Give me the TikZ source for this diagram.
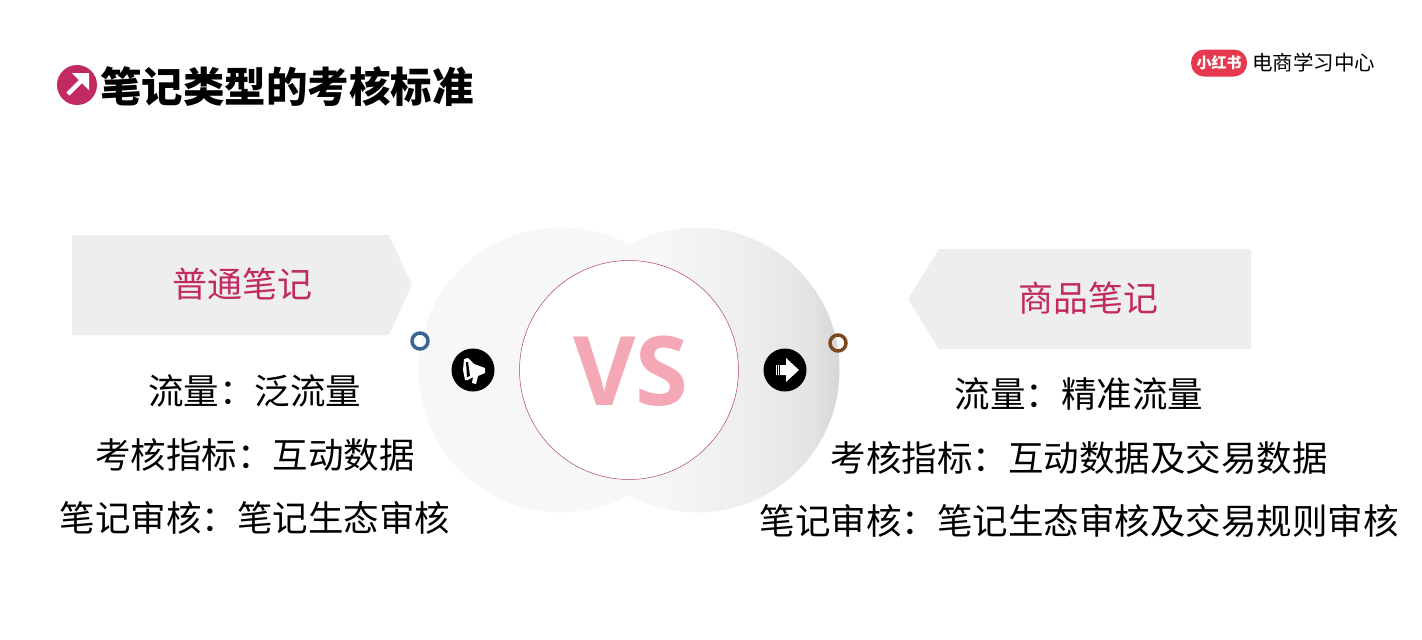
\documentclass[tikz,border=0pt]{standalone}
\usepackage{fontspec}
\usepackage{xcolor}
\setmainfont{Noto Sans CJK SC}
\newfontfamily\vsfont{Open Sans}
\usetikzlibrary{positioning, calc, shapes.geometric}
\definecolor{notepink}{HTML}{C22B62}
\definecolor{vspink}{HTML}{F4A7B5}
\definecolor{logored}{HTML}{E8384F}
\definecolor{paleround}{HTML}{F7F7F8}
\definecolor{ringblue}{HTML}{3A6595}
\definecolor{ringbrown}{HTML}{7B4A1E}
\pgfdeclarehorizontalshading{rightglow}{100bp}{color(0bp)=(paleround); color(25bp)=(paleround); color(42bp)=(paleround); color(60bp)=(black!7); color(70bp)=(black!11); color(75bp)=(black!16); color(100bp)=(black!16)}
\tikzset{heading/.style={font=\fontsize{35}{35}\selectfont,text=notepink,inner sep=0pt},
         bodyline/.style={font=\fontsize{35.5}{35.5}\selectfont,text=black,inner sep=0pt,anchor=center},
         banner/.style={draw=none,fill=gray!13},
         ring/.style={circle,draw,line width=3.5pt,minimum size=16pt,inner sep=0pt},
         badge/.style={circle,fill=black,minimum size=43pt,inner sep=0pt},
         glyph/.style={fill=white,draw=none}}
\begin{document}
\begin{tikzpicture}[x=1pt,y=-1pt]
    \useasboundingbox (0,0) rectangle (1422,640);
    % title
    \node (dot) [circle,fill=notepink,minimum size=40pt,inner sep=0pt] at (77,85) {};
    \draw[white,line width=4.5pt] (68,94) -- (84,78);
    \fill[white] (72,73) -- (89,73) -- (89,90) -- cycle;
    \node (title) [right=3pt of dot,yshift=-2pt,inner sep=0pt,font=\fontsize{41.5}{41.5}\selectfont\bfseries] {笔记类型的考核标准};
    % logo
    \node (logo) [rounded corners=13pt,fill=logored,minimum width=56pt,minimum height=27pt,inner sep=0pt,text=white,font=\fontsize{15}{15}\selectfont\bfseries] at (1219,63) {小红书};
    \node (brand) [right=5pt of logo,inner sep=0pt,font=\fontsize{20.5}{20.5}\selectfont] {电商学习中心};
    % circles
    \fill[paleround] (561,370) circle (142.5);
    \shade[shading=rightglow] (697,370) circle (142.5);
    \node (inner) [circle,draw=notepink!70!gray,fill=white,line width=0.5pt,minimum size=219pt,inner sep=0pt] at (629,370) {};
    \node (vs) [text=vspink,inner sep=0pt,font=\vsfont\fontsize{96}{96}\selectfont\bfseries] at (631,371) {VS};
    % banners
    \filldraw[banner] (72,235) -- (389,235) -- (412,285) -- (389,335) -- (72,335) -- cycle;
    \filldraw[banner] (1251,249) -- (939,249) -- (908,299) -- (939,349) -- (1251,349) -- cycle;
    \node (plain) [heading] at (242,284) {普通笔记};
    \node (goods) [heading] at (1088,298) {商品笔记};
    % rings
    \node (ringl) [ring,draw=ringblue] at (420,341) {};
    \node (ringr) [ring,draw=ringbrown] at (838,343) {};
    % badges
    \node (horn) [badge] at (473,370) {};
    \fill[glyph] (464,359) -- (468,358) -- (474,364) -- (485,368) -- (485,373) -- (478,376) -- (476,384) -- (472,383) -- (473,377) -- (468,380) -- (465,380) -- (463,370) -- cycle;
    \fill[black] (466,362) -- (468,362) -- (470,376) -- (467,377) -- cycle;
    \node (next) [badge] at (785,370) {};
    \fill[glyph] (776,365) -- (786,365) -- (786,358) -- (799,370) -- (786,382) -- (786,375) -- (776,375) -- cycle;
    \draw[black,line width=0.6pt] (777,365) -- (777,375) (779,365) -- (779,375);
    % left text
    \node (l1) [bodyline] at (254.5,391) {流量：泛流量};
    \node (l2) [bodyline] at (255,455) {考核指标：互动数据};
    \node (l3) [bodyline] at (255,518) {笔记审核：笔记生态审核};
    % right text
    \node (r1) [bodyline] at (1079,394) {流量：精准流量};
    \node (r2) [bodyline] at (1079,458) {考核指标：互动数据及交易数据};
    \node (r3) [bodyline] at (1079,521) {笔记审核：笔记生态审核及交易规则审核};
\end{tikzpicture}
\end{document}
